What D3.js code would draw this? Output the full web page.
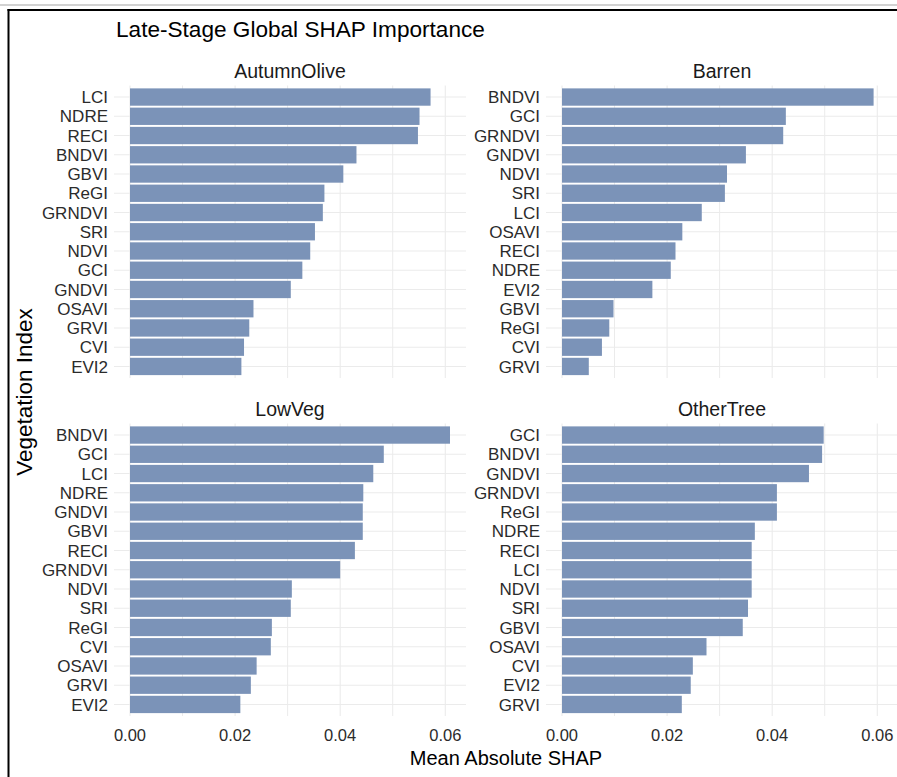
<!DOCTYPE html>
<html lang="en">
<head>
<meta charset="UTF-8" />
<title>Late-Stage Global SHAP Importance</title>
<script src="https://d3js.org/d3.v7.min.js"></script>
<style>
    body { margin: 0; background: #fff; font-family: 'Liberation Sans', Arial, sans-serif; }
    svg text { font-family: 'Liberation Sans', Arial, sans-serif; }
</style>
</head>
<body>
<svg width="897" height="777"></svg>
<script>

// facet names, in plotting order (top-left, top-right, bottom-left, bottom-right)
var facets = ["AutumnOlive", "Barren", "LowVeg", "OtherTree"];

// indices per facet, top to bottom
var autumnLabels = ["LCI","NDRE","RECI","BNDVI","GBVI","ReGI","GRNDVI","SRI","NDVI","GCI","GNDVI","OSAVI","GRVI","CVI","EVI2"];
var autumnValues = [0.0572,0.0551,0.0548,0.0431,0.0406,0.0370,0.0367,0.0352,0.0343,0.0328,0.0306,0.0235,0.0227,0.0217,0.0212];

var barrenLabels = ["BNDVI","GCI","GRNDVI","GNDVI","NDVI","SRI","LCI","OSAVI","RECI","NDRE","EVI2","GBVI","ReGI","CVI","GRVI"];
var barrenValues = [0.0593,0.0426,0.0421,0.0350,0.0314,0.0310,0.0266,0.0229,0.0216,0.0207,0.0172,0.0098,0.0090,0.0076,0.0051];

var lowvegLabels = ["BNDVI","GCI","LCI","NDRE","GNDVI","GBVI","RECI","GRNDVI","NDVI","SRI","ReGI","CVI","OSAVI","GRVI","EVI2"];
var lowvegValues = [0.0609,0.0483,0.0463,0.0444,0.0443,0.0443,0.0428,0.0400,0.0308,0.0306,0.0270,0.0268,0.0241,0.0230,0.0210];

var otherLabels = ["GCI","BNDVI","GNDVI","GRNDVI","ReGI","NDRE","RECI","LCI","NDVI","SRI","GBVI","OSAVI","CVI","EVI2","GRVI"];
var otherValues = [0.0498,0.0495,0.0470,0.0409,0.0409,0.0367,0.0361,0.0361,0.0361,0.0354,0.0344,0.0275,0.0249,0.0245,0.0228];

var xTicks = [0, 0.02, 0.04, 0.06];
var xMinor = [0.01, 0.03, 0.05];

var panelLabels = [autumnLabels, barrenLabels, lowvegLabels, otherLabels];
var panelValues = [autumnValues, barrenValues, lowvegValues, otherValues];

// layout
var svg = d3.select("svg");
var panelW = 352, panelH = 292.5;
var panelX = [114, 546], panelY = [85.5, 423.5];
var barColor = "#7b93b8", gridColor = "#ebebeb";

// frame lines seen round the picture
svg.append("rect").attr("x", 0).attr("y", 4).attr("width", 897).attr("height", 2).attr("fill", "#d2d2d2");
svg.append("rect").attr("x", 7.5).attr("y", 9).attr("width", 890).attr("height", 2).attr("fill", "#000");
svg.append("rect").attr("x", 7.5).attr("y", 9).attr("width", 2).attr("height", 768).attr("fill", "#000");

// shared x scale (fixed scales in facet_wrap)
var maxVal = d3.max(panelValues, function(v) { return d3.max(v); });
var x = d3.scaleLinear()
    .domain([-0.05 * maxVal, 1.05 * maxVal])
    .range([0, panelW]);

facets.forEach(function(name, i) {
    var col = i % 2, row = Math.floor(i / 2);
    var g = svg.append("g")
        .attr("transform", "translate(" + panelX[col] + "," + panelY[row] + ")");

    var labels = panelLabels[i], values = panelValues[i];
    var y = d3.scalePoint().domain(labels).range([0, panelH]).padding(0.6);
    var step = y.step();

    // grid
    g.selectAll("line.vminor").data(xMinor).enter().append("line")
        .attr("x1", function(d) { return x(d); }).attr("x2", function(d) { return x(d); })
        .attr("y1", 0).attr("y2", panelH)
        .attr("stroke", gridColor).attr("stroke-width", 1);
    g.selectAll("line.vmajor").data(xTicks).enter().append("line")
        .attr("x1", function(d) { return x(d); }).attr("x2", function(d) { return x(d); })
        .attr("y1", 0).attr("y2", panelH)
        .attr("stroke", gridColor).attr("stroke-width", 1.1);
    g.selectAll("line.h").data(labels).enter().append("line")
        .attr("x1", 0).attr("x2", panelW)
        .attr("y1", function(d) { return y(d); }).attr("y2", function(d) { return y(d); })
        .attr("stroke", gridColor).attr("stroke-width", 1.1);

    // bars
    g.selectAll("rect.bar").data(values).enter().append("rect")
        .attr("x", x(0))
        .attr("y", function(d, j) { return y(labels[j]) - step * 0.45; })
        .attr("width", function(d) { return x(d) - x(0); })
        .attr("height", step * 0.9)
        .attr("fill", barColor);

    // y tick labels
    g.selectAll("text.ylab").data(labels).enter().append("text")
        .attr("x", -6)
        .attr("y", function(d) { return y(d); })
        .attr("dy", "0.36em")
        .attr("text-anchor", "end")
        .attr("font-size", "17px")
        .attr("fill", "#2b2b2b")
        .text(function(d) { return d; });

    // strip title
    g.append("text")
        .attr("x", panelW / 2)
        .attr("y", -8)
        .attr("text-anchor", "middle")
        .attr("font-size", "19.5px")
        .attr("fill", "#1a1a1a")
        .text(name);

    // x tick labels on bottom row only
    if (row === 1) {
        g.selectAll("text.xlab").data(xTicks).enter().append("text")
            .attr("x", function(d) { return x(d); })
            .attr("y", panelH + 25)
            .attr("text-anchor", "middle")
            .attr("font-size", "16.5px")
            .attr("fill", "#2b2b2b")
            .text(function(d) { return d3.format(".2f")(d); });
    }
});

// title and axis titles
svg.append("text")
    .attr("x", 116).attr("y", 37)
    .attr("font-size", "22.6px")
    .attr("fill", "#000")
    .text("Late-Stage Global SHAP Importance");

svg.append("text")
    .attr("x", (panelX[0] + panelX[1] + panelW) / 2).attr("y", 765)
    .attr("text-anchor", "middle")
    .attr("font-size", "20px")
    .attr("fill", "#000")
    .text("Mean Absolute SHAP");

svg.append("text")
    .attr("transform", "translate(32,392) rotate(-90)")
    .attr("text-anchor", "middle")
    .attr("font-size", "22.5px")
    .attr("fill", "#000")
    .text("Vegetation Index");

</script>
</body>
</html>
